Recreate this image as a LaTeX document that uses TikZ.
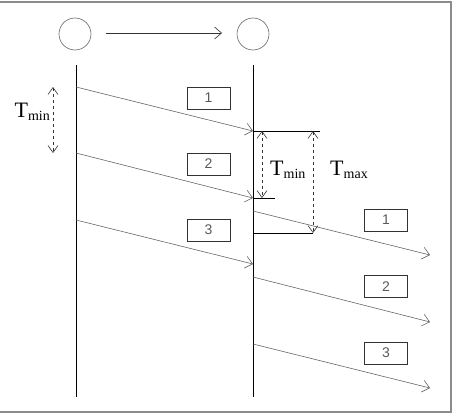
\documentclass[tikz,border=0pt]{standalone}
\usepackage{fontspec}
\setmainfont{Liberation Serif}
\newfontfamily\boxfont{Liberation Sans}
\usetikzlibrary{arrows.meta}

\tikzset{
  msg/.style={draw=black!60, line width=0.6pt, -{Straight Barb[length=7pt,width=12pt,line width=0.6pt]}},
  span/.style={draw=black!80, dashed, line width=0.6pt, {Straight Barb[length=7pt,width=10pt,line width=0.6pt]}-{Straight Barb[length=7pt,width=10pt,line width=0.6pt]}},
  pktbox/.style={draw=black!80, line width=0.7pt, minimum width=43pt, minimum height=22pt, inner sep=0pt, font=\boxfont\fontsize{14}{14}\selectfont, text=black!65},
  station/.style={circle, draw=black!60, line width=0.6pt, minimum size=32pt, inner sep=0pt},
  lbl/.style={font=\fontsize{22}{22}\selectfont, inner sep=0pt}
}
\newcommand{\tsub}[1]{T\raisebox{-3pt}{\fontsize{14}{14}\selectfont #1}}

\begin{document}
\begin{tikzpicture}[x=1pt, y=-1pt]
    \useasboundingbox (0,0) rectangle (455,415);

    % Frame
    \draw[black!45, line width=1.2pt] (0,2) -- (451,2) -- (451,412) -- (0,412);

    % Stations
    \node[station] (src) at (75,34) {};
    \node[station] (dst) at (253,34) {};
    \draw[black!80, line width=0.6pt, -{Straight Barb[length=7pt,width=12pt,line width=0.6pt]}] (106,33) -- (222,33);

    % Time lines
    \coordinate (srctop) at (76,65);
    \coordinate (srcbot) at (76,397);
    \coordinate (dsttop) at (253,65);
    \coordinate (dstbot) at (253,397);
    \draw[line width=0.7pt] (srctop) -- (srcbot);
    \draw[line width=0.7pt] (dsttop) -- (dstbot);

    % Incoming packets
    \foreach \i/\ys/\ye/\yb in {1/87/131/98, 2/153/198/164, 3/220/264/230} {
        \coordinate (in\i s) at (76,\ys);
        \coordinate (in\i e) at (253,\ye);
        \draw[msg] (in\i s) -- (in\i e);
        \node[pktbox] (inbox\i) at (208.5,\yb) {\i};
    }

    % Outgoing packets
    \foreach \i/\ys/\ye/\yb in {1/211/255/220, 2/277/322/286.5, 3/344/388/353} {
        \coordinate (out\i s) at (253,\ys);
        \coordinate (out\i e) at (430,\ye);
        \draw[msg] (out\i s) -- (out\i e);
        \node[pktbox] (outbox\i) at (386,\yb) {\i};
    }

    % Left interval
    \coordinate (la) at (53,87);
    \coordinate (lb) at (53,153);
    \draw[span] (la) -- (lb);
    \node[lbl, anchor=east] (ltmin) at (50,112) {\tsub{min}};

    % Right intervals
    \coordinate (ra) at (320,131);
    \coordinate (rb) at (275,198);
    \coordinate (rc) at (313,233);
    \draw[line width=0.7pt] (in1e) -- (ra);
    \draw[line width=0.7pt] (in2e) -- (rb);
    \draw[line width=0.7pt] (253,233) -- (rc);
    \draw[span] (262,131) -- (262,198);
    \draw[span] (313,131) -- (rc);
    \node[lbl, anchor=west] (rtmin) at (270,170) {\tsub{min}};
    \node[lbl, anchor=west] (rtmax) at (330,170) {\tsub{max}};
\end{tikzpicture}
\end{document}
